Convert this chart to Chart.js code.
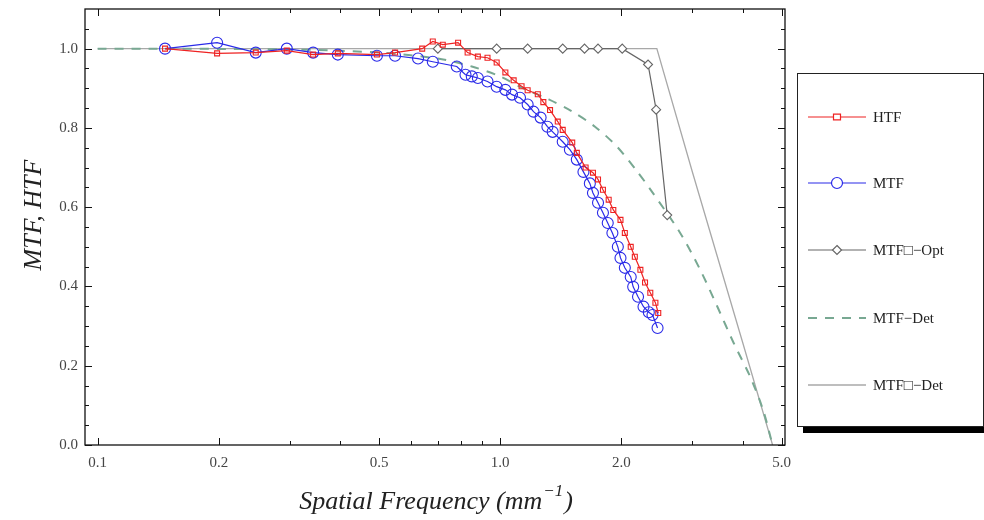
<!DOCTYPE html>
<html>
<head>
<meta charset="utf-8">
<script src="https://cdn.jsdelivr.net/npm/chart.js@4.4.1/dist/chart.umd.min.js"></script>
<style>
  html,body{margin:0;padding:0;background:#fff;}
  #wrap{width:984px;height:520px;}
</style>
</head>
<body>
<div id="wrap"><canvas id="mtfChart" width="984" height="520"></canvas></div>
<script>
// datos
const htfX = [0.147,0.198,0.247,0.295,0.343,0.395,0.494,0.548,0.64,0.68,0.72,0.786,0.83,0.88,0.93,0.98,1.03,1.08,1.13,1.17,1.24,1.28,1.33,1.39,1.43,1.51,1.55,1.63,1.70,1.75,1.80,1.86,1.91,1.99,2.04,2.11,2.16,2.23,2.29,2.36,2.43,2.47];
const htfY = [1.0,0.988,0.99,0.995,0.985,0.988,0.985,0.99,1.0,1.018,1.01,1.015,0.99,0.98,0.977,0.965,0.94,0.92,0.905,0.895,0.885,0.865,0.845,0.816,0.795,0.763,0.737,0.70,0.687,0.67,0.644,0.619,0.593,0.568,0.535,0.50,0.475,0.442,0.41,0.384,0.359,0.333];

const mtfX = [0.147,0.198,0.247,0.295,0.343,0.395,0.494,0.548,0.625,0.68,0.78,0.82,0.85,0.88,0.93,0.98,1.03,1.07,1.12,1.17,1.21,1.26,1.31,1.35,1.43,1.49,1.55,1.61,1.67,1.70,1.75,1.80,1.85,1.90,1.96,1.99,2.04,2.11,2.14,2.20,2.27,2.34,2.39,2.46];
const mtfY = [1.0,1.015,0.99,1.0,0.99,0.985,0.982,0.982,0.975,0.967,0.955,0.934,0.93,0.926,0.917,0.904,0.896,0.884,0.876,0.859,0.841,0.826,0.803,0.79,0.765,0.745,0.72,0.689,0.66,0.636,0.611,0.586,0.56,0.535,0.50,0.472,0.447,0.424,0.399,0.374,0.349,0.335,0.328,0.295];

const optX = [0.70,0.98,1.17,1.43,1.62,1.75,2.01,2.33,2.44,2.60];
const optY = [1.0,1.0,1.0,1.0,1.0,1.0,1.0,0.96,0.846,0.58];

const detX = [0.1,0.3,0.5,0.7,0.85,1.0,1.14,1.32,1.5,1.72,1.95,2.19,2.36,2.8,3.14,3.46,3.8,4.18,4.5,4.75];
const detY = [1.0,0.998,0.99,0.975,0.955,0.93,0.90,0.872,0.843,0.803,0.753,0.69,0.645,0.535,0.442,0.35,0.258,0.172,0.088,0.0];

const det2X = [0.1,2.45,3.0,4.0,4.75];
const det2Y = [1.0,1.0,0.69,0.26,0.0];

const seriesNames = ['HTF','MTF','MTF\u25A1\u2212Opt','MTF\u2212Det','MTF\u25A1\u2212Det'];

const xTicks = [0.1,0.2,0.5,1,2,5];
const xTickLabels = ['0.1','0.2','0.5','1.0','2.0','5.0'];
const xMinor = [0.3,0.4,0.6,0.7,0.8,0.9,3,4];
const yTicks = [0,0.2,0.4,0.6,0.8,1.0];
const yTickLabels = ['0.0','0.2','0.4','0.6','0.8','1.0'];
const yMinor = [0.05,0.1,0.15,0.25,0.3,0.35,0.45,0.5,0.55,0.65,0.7,0.75,0.85,0.9,0.95,1.05];

const pts = (xs, ys) => xs.map((x,i)=>({x, y: ys[i]}));
const SERIF = '"Liberation Serif","DejaVu Serif",serif';

// marco, ticks hacia dentro, titulos y leyenda
const frame = {
  id:'frame',
  afterDraw(chart){
    const {ctx, chartArea:a, scales:{x, y}} = chart;
    ctx.save();
    ctx.strokeStyle = '#111';
    ctx.lineWidth = 1.3;
    ctx.strokeRect(a.left, a.top, a.right-a.left, a.bottom-a.top);
    ctx.lineWidth = 1;
    const tx = (v, len) => {
      const px = Math.round(x.getPixelForValue(v))+0.5;
      ctx.beginPath();
      ctx.moveTo(px, a.bottom); ctx.lineTo(px, a.bottom-len);
      ctx.moveTo(px, a.top); ctx.lineTo(px, a.top+len);
      ctx.stroke();
    };
    const ty = (v, len) => {
      const py = Math.round(y.getPixelForValue(v))+0.5;
      ctx.beginPath();
      ctx.moveTo(a.left, py); ctx.lineTo(a.left+len, py);
      ctx.moveTo(a.right, py); ctx.lineTo(a.right-len, py);
      ctx.stroke();
    };
    xTicks.forEach(v=>tx(v,7));
    xMinor.forEach(v=>tx(v,4));
    yTicks.forEach(v=>ty(v,7));
    yMinor.forEach(v=>ty(v,4));

    // titulos de ejes
    ctx.fillStyle = '#222';
    ctx.textBaseline = 'alphabetic';
    const t1 = 'Spatial Frequency (mm';
    ctx.font = 'italic 26px ' + SERIF;
    const w1 = ctx.measureText(t1).width;
    ctx.font = 'italic 17px ' + SERIF;
    const w2 = ctx.measureText('\u22121').width;
    ctx.font = 'italic 26px ' + SERIF;
    const w3 = ctx.measureText(')').width;
    let sx = 435 - (w1+w2+w3)/2;
    ctx.textAlign = 'left';
    ctx.fillText(t1, sx, 509);
    ctx.font = 'italic 17px ' + SERIF;
    ctx.fillText('\u22121', sx+w1+1, 496);
    ctx.font = 'italic 26px ' + SERIF;
    ctx.fillText(')', sx+w1+w2+2, 509);

    ctx.save();
    ctx.translate(41, 215);
    ctx.rotate(-Math.PI/2);
    ctx.textAlign = 'center';
    ctx.fillText('MTF, HTF', 0, 0);
    ctx.restore();

    // leyenda
    const lx = 797, ly = 73, lw = 186, lh = 353;
    ctx.fillStyle = '#000';
    ctx.fillRect(lx+6, ly+lh, lw, 7);
    ctx.fillStyle = '#fff';
    ctx.fillRect(lx, ly, lw, lh);
    ctx.strokeStyle = '#222';
    ctx.lineWidth = 1;
    ctx.strokeRect(lx+0.5, ly+0.5, lw, lh);
    const rows = [117,183,250,318,385];
    chart.data.datasets.forEach((ds,i)=>{
      const cy = rows[i];
      ctx.save();
      ctx.strokeStyle = ds.borderColor;
      ctx.lineWidth = ds.borderWidth;
      ctx.setLineDash(ds.borderDash || []);
      ctx.beginPath(); ctx.moveTo(808, cy); ctx.lineTo(866, cy); ctx.stroke();
      ctx.setLineDash([]);
      const r = ds.pointRadius;
      if (r > 0) {
        ctx.lineWidth = 1.2;
        ctx.fillStyle = '#fff';
        ctx.beginPath();
        if (ds.pointStyle === 'circle') ctx.arc(837, cy, r, 0, Math.PI*2);
        else if (ds.pointStyle === 'rect') ctx.rect(837-r, cy-r*0.8, 2*r, 1.6*r);
        else { ctx.moveTo(837, cy-r); ctx.lineTo(837+r, cy); ctx.lineTo(837, cy+r); ctx.lineTo(837-r, cy); ctx.closePath(); }
        ctx.fill(); ctx.stroke();
      }
      ctx.restore();
      ctx.fillStyle = '#222';
      ctx.font = '15px ' + SERIF;
      ctx.textAlign = 'left';
      ctx.textBaseline = 'middle';
      ctx.fillText(ds.label, 873, cy+1);
    });
    ctx.restore();
  }
};

new Chart(document.getElementById('mtfChart').getContext('2d'), {
  type:'line',
  data:{
    datasets:[
      { label:seriesNames[0], data:pts(htfX, htfY), borderColor:'#ee2222', borderWidth:1.2,
        pointStyle:'rect', pointRadius:3.5, pointBorderWidth:1.1, pointBackgroundColor:'rgba(255,255,255,0)', tension:0 },
      { label:seriesNames[1], data:pts(mtfX, mtfY), borderColor:'#2a2ae8', borderWidth:1.2,
        pointStyle:'circle', pointRadius:5.5, pointBorderWidth:1.1, pointBackgroundColor:'rgba(255,255,255,0)', tension:0 },
      { label:seriesNames[2], data:pts(optX, optY), borderColor:'#666666', borderWidth:1.2,
        pointStyle:'rectRot', pointRadius:4.5, pointBorderWidth:1.1, pointBackgroundColor:'#fff', tension:0 },
      { label:seriesNames[3], data:pts(detX, detY), borderColor:'#78a892', borderWidth:2, borderDash:[9,8],
        pointRadius:0, tension:0.3 },
      { label:seriesNames[4], data:pts(det2X, det2Y), borderColor:'#a8a8a8', borderWidth:1.3,
        pointRadius:0, tension:0 }
    ]
  },
  options:{
    responsive:false,
    animation:false,
    layout:{ padding:{ left:0, right:199, top:9, bottom:0 } },
    plugins:{ legend:{ display:false }, tooltip:{ enabled:false } },
    scales:{
      x:{
        type:'logarithmic', min:0.093, max:5.1,
        grid:{ display:false, drawTicks:false }, border:{ display:false },
        afterBuildTicks: s => { s.ticks = xTicks.map(v=>({value:v})); },
        afterFit: s => { s.height = 75; s.paddingLeft = 0; s.paddingRight = 0; },
        ticks:{ autoSkip:false, maxRotation:0, padding:9, color:'#444',
          font:{ family:SERIF, size:15 },
          callback:(v,i)=>xTickLabels[i] }
      },
      y:{
        type:'linear', min:0, max:1.1,
        grid:{ display:false, drawTicks:false }, border:{ display:false },
        afterBuildTicks: s => { s.ticks = yTicks.map(v=>({value:v})); },
        afterFit: s => { s.width = 85; s.paddingTop = 0; s.paddingBottom = 0; },
        ticks:{ padding:7, color:'#444', font:{ family:SERIF, size:15 },
          callback:(v,i)=>yTickLabels[i] }
      }
    }
  },
  plugins:[frame]
});
</script>
</body>
</html>
